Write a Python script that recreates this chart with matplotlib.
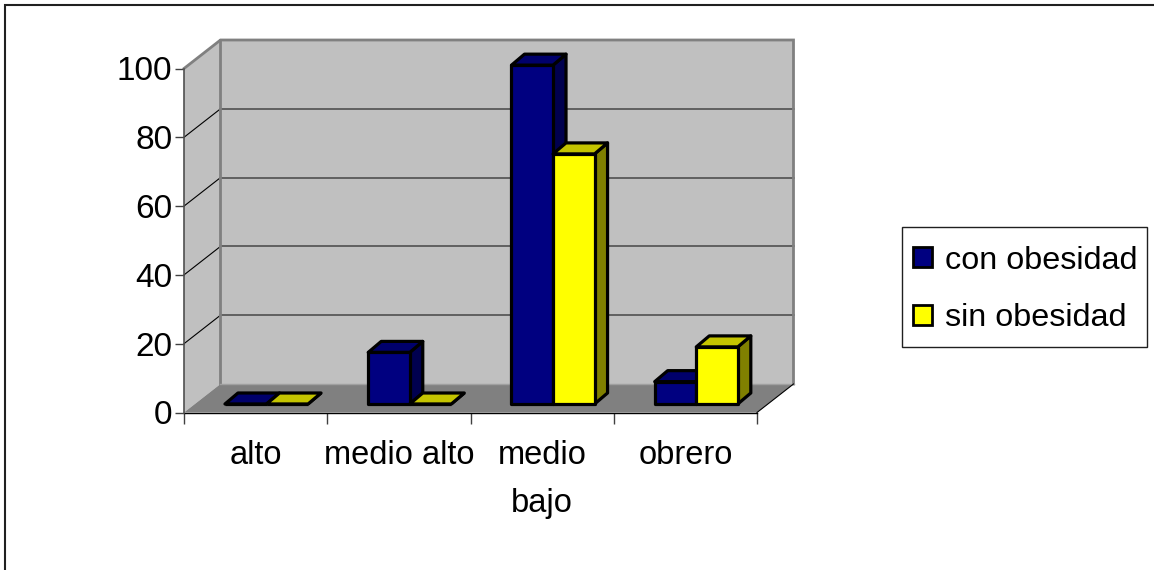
import matplotlib
matplotlib.use('Agg')
import matplotlib.pyplot as plt
from matplotlib.patches import Polygon, Patch, Rectangle
from matplotlib.lines import Line2D

plt.rcParams['font.family'] = ['Liberation Sans', 'DejaVu Sans']

categorias = ['alto', 'medio alto', 'medio\nbajo', 'obrero']
con_obesidad = [0, 15, 98.5, 6.5]
sin_obesidad = [0, 0, 72.7, 16.6]
yticks = [0, 20, 40, 60, 80, 100]

W, H = 1154, 570
# front plane of the fake 3d box, in pixels
left, right, top, bottom = 184, 757, 68.5, 412.5
px_x = (right - left) / 4.0
px_y = (bottom - top) / 100.0

# depth of the box and of the bars, converted to data units
box_dx = 36.5 / px_x
box_dy = 28.5 / px_y
bar_dx = 13 / px_x
bar_dy = 11 / px_y
base_y = 8.5 / px_y
bar_start = 0.286
bar_w = 0.29


def draw_bar(ax, x, val, front, top_col, side_col):
    y0 = base_y
    y1 = base_y + val
    x1 = x + bar_w
    lw = 2.3
    ax.add_patch(Polygon([(x1, y0), (x1 + bar_dx, y0 + bar_dy), (x1 + bar_dx, y1 + bar_dy), (x1, y1)],
                         fc=side_col, ec='black', lw=lw, clip_on=False, zorder=5, joinstyle='round'))
    ax.add_patch(Polygon([(x, y1), (x1, y1), (x1 + bar_dx, y1 + bar_dy), (x + bar_dx, y1 + bar_dy)],
                         fc=top_col, ec='black', lw=lw, clip_on=False, zorder=5, joinstyle='round'))
    ax.add_patch(Rectangle((x, y0), bar_w, val, fc=front, ec='black', lw=lw,
                           clip_on=False, zorder=5, joinstyle='round'))


fig = plt.figure(figsize=(W / 100, H / 100), dpi=100, facecolor='white')
ax = fig.add_axes([left / W, 1 - bottom / H, (right - left) / W, (bottom - top) / H])
ax.set_xlim(0, 4)
ax.set_ylim(0, 100)
ax.patch.set_visible(False)

# walls and floor
ax.add_patch(Polygon([(box_dx, box_dy), (4 + box_dx, box_dy), (4 + box_dx, 100 + box_dy), (box_dx, 100 + box_dy)],
                     fc='#c0c0c0', ec='none', clip_on=False, zorder=1))
ax.add_patch(Polygon([(0, 0), (box_dx, box_dy), (box_dx, 100 + box_dy), (0, 100)],
                     fc='#c0c0c0', ec='none', clip_on=False, zorder=1))
ax.add_patch(Polygon([(0, 0), (4, 0), (4 + box_dx, box_dy), (box_dx, box_dy)],
                     fc='#808080', ec='none', clip_on=False, zorder=1))

for v in yticks[1:-1]:
    ax.plot([0, box_dx], [v, v + box_dy], color='black', lw=0.8, clip_on=False, zorder=2)
    ax.plot([box_dx, 4 + box_dx], [v + box_dy, v + box_dy], color='#505050', lw=1.2, clip_on=False, zorder=2)

edge = '#808080'
ax.plot([0, box_dx, 4 + box_dx, 4 + box_dx], [100, 100 + box_dy, 100 + box_dy, box_dy],
        color=edge, lw=2, clip_on=False, zorder=2, solid_joinstyle='miter')
ax.plot([box_dx, box_dx], [box_dy, 100 + box_dy], color=edge, lw=2, clip_on=False, zorder=2)
ax.plot([box_dx, 4 + box_dx], [box_dy, box_dy], color='#a0a0a0', lw=1, clip_on=False, zorder=2)
ax.plot([4, 4 + box_dx], [0, box_dy], color='black', lw=0.8, clip_on=False, zorder=2)

for i in range(len(categorias)):
    x = i + bar_start
    draw_bar(ax, x, con_obesidad[i], '#000080', '#00006b', '#00004f')
    draw_bar(ax, x + bar_w, sin_obesidad[i], '#ffff00', '#c4c400', '#808000')

# axes
for s in ['top', 'right']:
    ax.spines[s].set_visible(False)
ax.spines['left'].set_color('#505050')
ax.spines['left'].set_linewidth(1.2)
ax.spines['left'].set_zorder(3)
ax.spines['bottom'].set_color('black')
ax.spines['bottom'].set_linewidth(1.0)

ax.set_yticks(yticks)
ax.tick_params(axis='y', length=6.5, width=1, color='#404040', labelsize=24, pad=2)
ax.set_xticks([0, 1, 2, 3, 4])
ax.set_xticklabels([])
ax.tick_params(axis='x', which='major', length=8, width=1, color='#404040')
ax.set_xticks([0.5, 1.5, 2.5, 3.5], minor=True)
ax.set_xticklabels(categorias, minor=True, fontsize=23.5, linespacing=1.68)
ax.tick_params(axis='x', which='minor', length=0, pad=20)

# legend: box drawn apart so its padding can differ across and down
fig.add_artist(Rectangle((902 / W, 1 - 347 / H), 245 / W, 120 / H, transform=fig.transFigure,
                         fc='white', ec='#202020', lw=1))
handles = [Patch(fc='#000080', ec='black', lw=2), Patch(fc='#ffff00', ec='black', lw=2)]
leg = fig.legend(handles, ['con obesidad', 'sin obesidad'], loc='center left',
                 bbox_to_anchor=(913 / W, 1 - 289.5 / H), fontsize=23.3, frameon=False,
                 handlelength=0.58, handleheight=0.6, handletextpad=0.4, labelspacing=0.86,
                 borderpad=0, borderaxespad=0)

# the chart frame only shows on the top and left sides
fig.add_artist(Line2D([5 / W, 5 / W, 1], [0, 1 - 5 / H, 1 - 5 / H], transform=fig.transFigure,
                      color='#202020', lw=1.5, solid_joinstyle='miter'))

fig.savefig('out.png', dpi=100)
